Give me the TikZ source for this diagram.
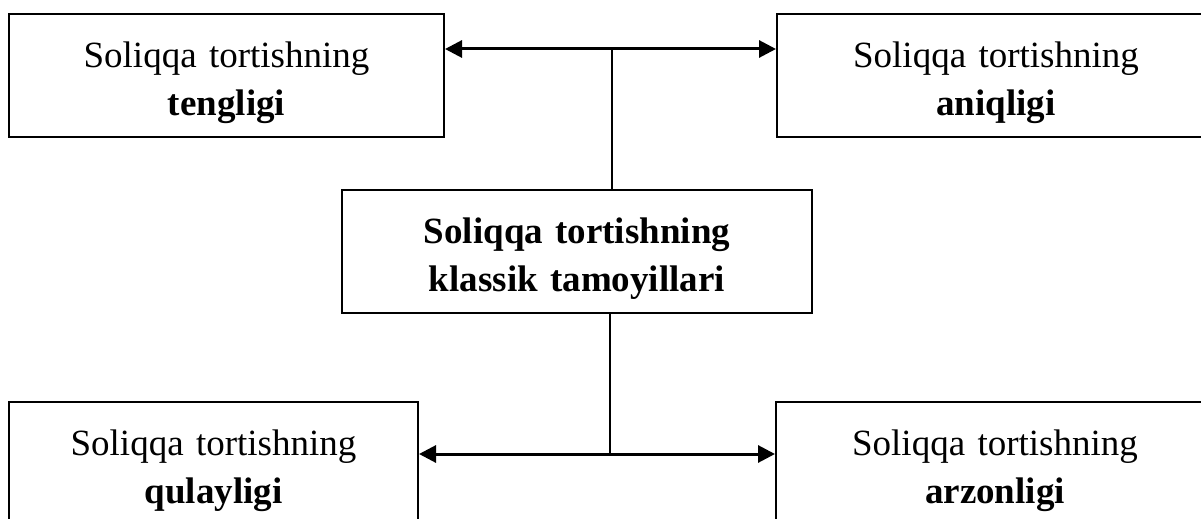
\documentclass[tikz,border=0pt]{standalone}
\usepackage{fontspec}
\setmainfont{Liberation Serif}
\usetikzlibrary{arrows.meta}
\begin{document}
\begin{tikzpicture}[x=0.5pt, y=-0.5pt,
box/.style={draw, line width=1pt, align=center, inner sep=0pt, text width=#1,
  minimum height=61.5pt, font=\fontsize{18.5}{24}\selectfont,
  execute at begin node={\rule{0pt}{20pt}}},
link/.style={line width=1.5pt, {Triangle[length=8.5pt,width=8.5pt]}-{Triangle[length=8.5pt,width=8.5pt]}},
stem/.style={line width=1pt}]
\useasboundingbox (0,0) rectangle (1201,519);
\clip (0,0) rectangle (1201,519);
\node[box=217.5pt] (tl) at (226.5,75.5) {Soliqqa tortishning\\\textbf{tengligi}};
\node[box=219pt] (tr) at (996,75.5) {Soliqqa tortishning\\\textbf{aniqligi}};
\node[box=235pt] (c) at (577,251.5) {\textbf{Soliqqa tortishning}\\\textbf{klassik tamoyillari}};
\node[box=204.5pt] (bl) at (213.5,463.5) {Soliqqa tortishning\\\textbf{qulayligi}};
\node[box=219pt] (br) at (995,463.5) {Soliqqa tortishning\\\textbf{arzonligi}};
\coordinate (tmid) at (612,49);
\coordinate (bmid) at (610,454);
\draw[link] (tl.east |- tmid) -- (tr.west |- tmid);
\draw[stem] (tmid) -- (c.north -| tmid);
\draw[link] (bl.east |- bmid) -- (br.west |- bmid);
\draw[stem] (c.south -| bmid) -- (bmid);
\end{tikzpicture}
\end{document}
